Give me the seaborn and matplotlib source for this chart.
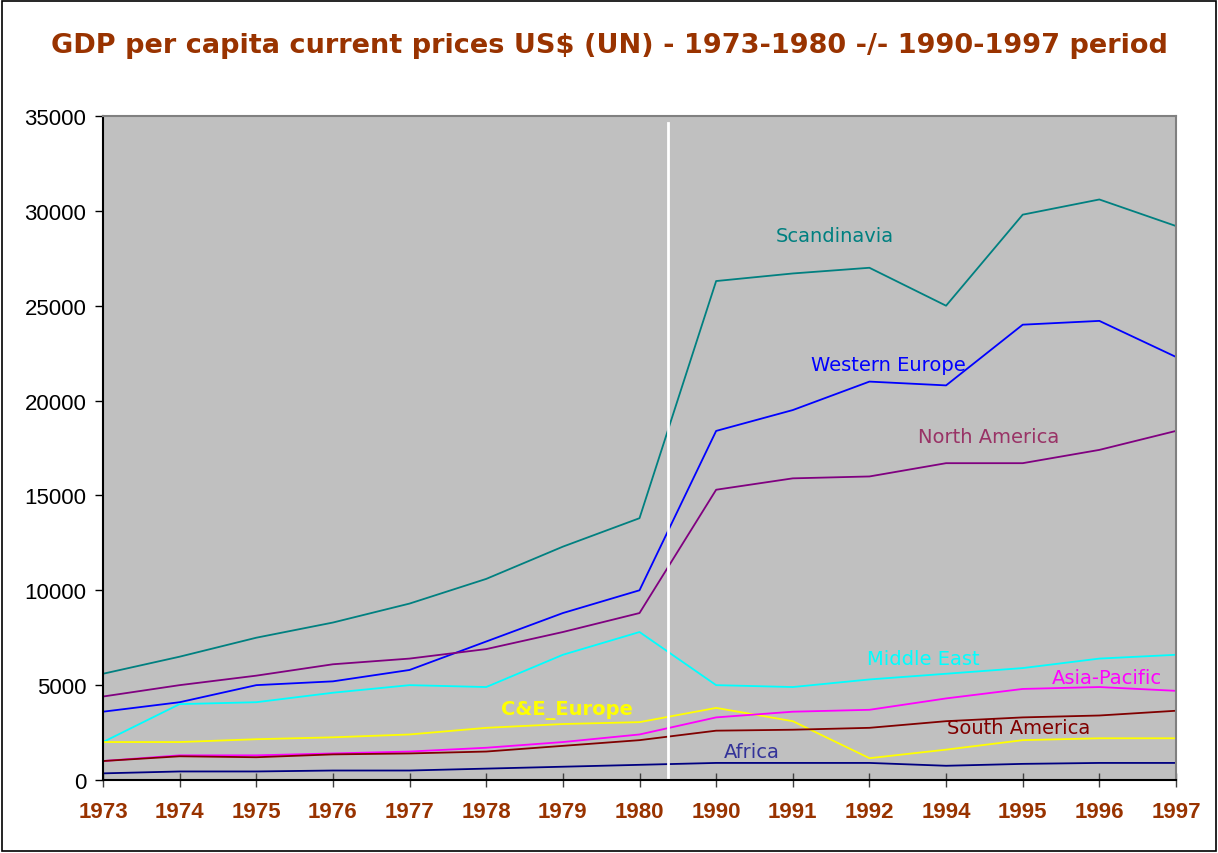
import numpy as np
import pandas as pd
import matplotlib
matplotlib.use("Agg")
import matplotlib.pyplot as plt
import seaborn as sns

# categories on the x axis (no 1981-1989, no 1993)
years = ["1973", "1974", "1975", "1976", "1977", "1978", "1979", "1980",
         "1990", "1991", "1992", "1994", "1995", "1996", "1997"]

scandinavia = [5600, 6500, 7500, 8300, 9300, 10600, 12300, 13800,
               26300, 26700, 27000, 25000, 29800, 30600, 29200]
western_europe = [3600, 4100, 5000, 5200, 5800, 7300, 8800, 10000,
                  18400, 19500, 21000, 20800, 24000, 24200, 22300]
north_america = [4400, 5000, 5500, 6100, 6400, 6900, 7800, 8800,
                 15300, 15900, 16000, 16700, 16700, 17400, 18400]
middle_east = [2000, 4000, 4100, 4600, 5000, 4900, 6600, 7800,
               5000, 4900, 5300, 5600, 5900, 6400, 6600]
ce_europe = [2000, 2000, 2150, 2250, 2400, 2750, 2950, 3050,
             3800, 3100, 1150, 1600, 2100, 2200, 2200]
asia_pacific = [1000, 1300, 1300, 1400, 1500, 1700, 2000, 2400,
                3300, 3600, 3700, 4300, 4800, 4900, 4700]
south_america = [1000, 1250, 1200, 1350, 1400, 1500, 1800, 2100,
                 2600, 2650, 2750, 3100, 3300, 3400, 3650]
africa = [350, 450, 450, 500, 500, 600, 700, 800,
          900, 900, 900, 750, 850, 900, 900]

series = {
    "Scandinavia": scandinavia,
    "Western Europe": western_europe,
    "North America": north_america,
    "Middle East": middle_east,
    "C&E_Europe": ce_europe,
    "Asia-Pacific": asia_pacific,
    "South America": south_america,
    "Africa": africa,
}

line_colors = {
    "Scandinavia": "#008080",
    "Western Europe": "#0000FF",
    "North America": "#800080",
    "Middle East": "#00FFFF",
    "C&E_Europe": "#FFFF00",
    "Asia-Pacific": "#FF00FF",
    "South America": "#800000",
    "Africa": "#000080",
}

# label placement (x in category units, y in data units) and text colour
labels = {
    "Scandinavia": (9.55, 28700, "#008080", "normal"),
    "Western Europe": (10.25, 21900, "#0000FF", "normal"),
    "North America": (11.55, 18100, "#993366", "normal"),
    "Middle East": (10.7, 6400, "#00FFFF", "normal"),
    "C&E_Europe": (6.05, 3700, "#FFFF00", "bold"),
    "Asia-Pacific": (13.1, 5400, "#FF00FF", "normal"),
    "South America": (11.95, 2750, "#800000", "normal"),
    "Africa": (8.47, 1500, "#333399", "normal"),
}

rows = []
for name, vals in series.items():
    for i, v in enumerate(vals):
        rows.append({"pos": i, "region": name, "gdp": v})
df = pd.DataFrame(rows)

fig = plt.figure(figsize=(12.18, 8.54), dpi=100)
fig.patch.set_facecolor("white")
ax = fig.add_axes([103 / 1218, 1 - 781 / 854, (1176 - 103) / 1218, (781 - 117) / 854])
ax.set_facecolor("#C0C0C0")

sns.lineplot(data=df, x="pos", y="gdp", hue="region", palette=line_colors,
             linewidth=1.3, legend=False, ax=ax, sort=False)

# white divider between the two periods
ax.axvline(7.37, color="white", linewidth=2, ymax=0.99)

for name, (lx, ly, col, wt) in labels.items():
    ax.text(lx, ly, name, color=col, fontsize=14, fontweight=wt,
            ha="center", va="center", family="DejaVu Sans")

ax.set_xlim(0, len(years) - 1)
ax.set_ylim(0, 35000)
ax.set_xticks(range(len(years)))
ax.set_xticklabels(years, color="#993300", fontweight="bold", fontsize=16,
                   family="Liberation Sans")
ax.set_yticks(np.arange(0, 35001, 5000))
ax.set_yticklabels([str(v) for v in range(0, 35001, 5000)], fontsize=16,
                   family="Liberation Sans")
ax.tick_params(axis="x", direction="inout", length=10, width=1, pad=10, colors="#404040",
               labelcolor="#993300")
ax.tick_params(axis="y", direction="out", length=6, width=1, pad=6, labelcolor="black")
ax.set_xlabel("")
ax.set_ylabel("")
ax.grid(False)
for side in ["left", "bottom"]:
    ax.spines[side].set_color("black")
    ax.spines[side].set_linewidth(1.5)
for side in ["top", "right"]:
    ax.spines[side].set_color("#808080")
    ax.spines[side].set_linewidth(1.5)

fig.text(0.5, 1 - 46 / 854, "GDP per capita current prices US$ (UN) - 1973-1980 -/- 1990-1997 period",
         ha="center", va="center", color="#993300", fontsize=19.5, fontweight="bold",
         family="DejaVu Sans")

# outer frame of the chart area
frame = plt.Rectangle((0.002, 0.002), 0.996, 0.996, transform=fig.transFigure,
                      fill=False, edgecolor="black", linewidth=1.2)
fig.patches.append(frame)

fig.savefig("out.png", dpi=100)
